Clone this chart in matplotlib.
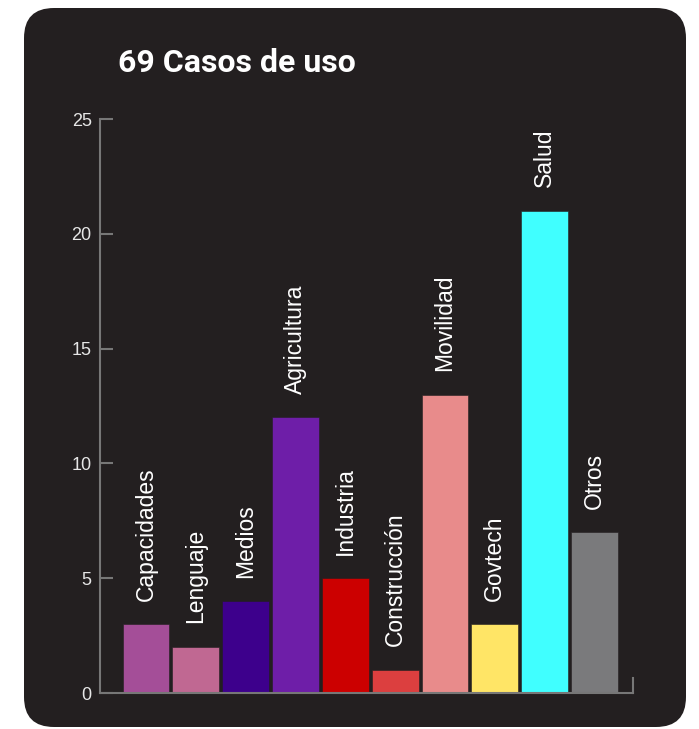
import matplotlib
matplotlib.use("Agg")
import matplotlib.pyplot as plt
from matplotlib.patches import FancyBboxPatch
from matplotlib.lines import Line2D

# data
categories = ["Capacidades", "Lenguaje", "Medios", "Agricultura", "Industria",
              "Construcción", "Movilidad", "Govtech", "Salud", "Otros"]
counts = [3, 2, 4, 12, 5, 1, 13, 3, 21, 7]
bar_colors = ["#a44e98", "#c06892", "#3d008c", "#6e1ea8", "#cc0000",
              "#dc3f3f", "#e88b8b", "#ffe566", "#40ffff", "#7a7a7c"]
y_ticks = [0, 5, 10, 15, 20, 25]
title = "69 Casos de uso"

BG = "#231f20"
AXIS = "#777777"

fig = plt.figure(figsize=(6.99, 7.29), dpi=100)
fig.patch.set_facecolor("white")

# dark rounded card behind everything (inches)
card = FancyBboxPatch((0.24, 0.02), 6.62, 7.19,
                      boxstyle="round,pad=0,rounding_size=0.3",
                      transform=fig.dpi_scale_trans,
                      facecolor=BG, edgecolor="none", zorder=-10)
fig.add_artist(card)

ax = fig.add_axes([100 / 699, 36 / 729, 533 / 699, 574 / 729])
ax.set_facecolor("none")
ax.set_zorder(5)

x = list(range(len(categories)))
ax.bar(x, counts, width=0.94, color=bar_colors, edgecolor=BG, linewidth=0.4, zorder=2)

for xi, v, name in zip(x, counts, categories):
    ax.annotate(name, (xi, v), xytext=(0, 17), textcoords="offset points",
                rotation=90, ha="center", va="bottom", color="white",
                fontsize=16.5, family="Liberation Sans")

ax.set_xlim(-0.924, 9.773)
ax.set_ylim(0, 25)
ax.set_xticks([])
ax.set_yticks(y_ticks)
ax.tick_params(axis="y", direction="in", length=9.5, width=1.5, color=AXIS,
               labelcolor="#e6e6e6", labelsize=13, pad=6)
for lbl in ax.get_yticklabels():
    lbl.set_family("Liberation Sans")

for side in ["top", "right"]:
    ax.spines[side].set_visible(False)
for side in ["left", "bottom"]:
    ax.spines[side].set_color(AXIS)
    ax.spines[side].set_linewidth(1.5)

# little upturned end on the x axis
ax.add_line(Line2D([1, 1], [0, 0.026], transform=ax.transAxes, color=AXIS,
                   linewidth=1.5, clip_on=False))

fig.text(118 / 699, 1 - 72 / 729, title, color="white", fontsize=23,
         fontweight="bold", family="Roboto", ha="left", va="baseline", zorder=6)

fig.savefig("out.png", dpi=100, facecolor=fig.get_facecolor())
